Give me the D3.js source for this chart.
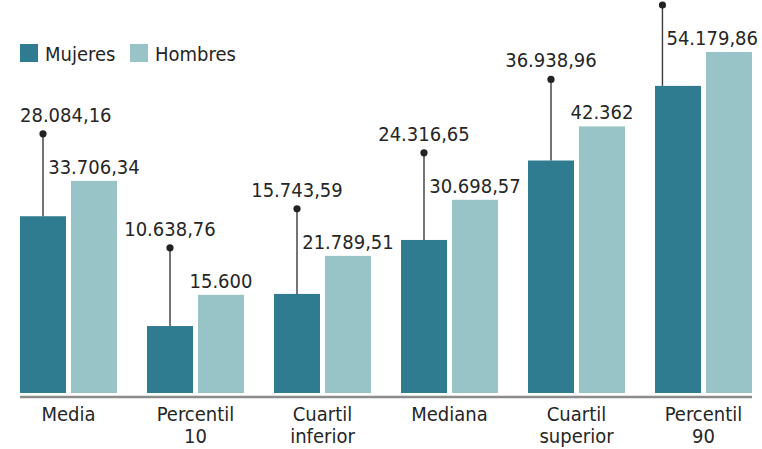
<!DOCTYPE html>
<html>
<head>
<meta charset="utf-8">
<script src="https://cdn.jsdelivr.net/npm/d3@7"></script>
<style>
  body { margin: 0; background: #fff; }
  svg text { font-family: "DejaVu Sans Condensed", "DejaVu Sans", sans-serif; fill: #262626; }
</style>
</head>
<body>
<div id="chart"></div>
<script>
// data
var categories = [["Media"], ["Percentil", "10"], ["Cuartil", "inferior"], ["Mediana"], ["Cuartil", "superior"], ["Percentil", "90"]];
var mujeres = [28084.16, 10638.76, 15743.59, 24316.65, 36938.96, 48796];
var hombres = [33706.34, 15600, 21789.51, 30698.57, 42362, 54179.86];
var seriesNames = ["Mujeres", "Hombres"];

var colorMuj = "#2f7b8f";
var colorHom = "#98c4c7";

var W = 762, H = 449;
var fs = "20px";

var locale = d3.formatLocale({ decimal: ",", thousands: ".", grouping: [3], currency: ["", "€"] });
var fmtInt = locale.format(",.0f");
var fmtDec = locale.format(",.2f");
function fmt(v) { return Number.isInteger(v) ? fmtInt(v) : fmtDec(v); }

var svg = d3.select("#chart").append("svg")
  .attr("width", W)
  .attr("height", H);

var x = d3.scaleBand()
  .domain(d3.range(categories.length))
  .range([20, 752])
  .paddingInner(30 / 127)
  .paddingOuter(0);

var gap = 5;
var barW = (x.bandwidth() - gap) / 2;

var y = d3.scaleLinear()
  .domain([0, d3.max(hombres)])
  .range([393, 52]);

// legend
var legend = svg.append("g").attr("class", "legend");
var legX = [20, 130];
seriesNames.forEach(function(name, i) {
  legend.append("rect")
    .attr("x", legX[i]).attr("y", 44)
    .attr("width", 18).attr("height", 18)
    .attr("fill", i == 0 ? colorMuj : colorHom);
  legend.append("text")
    .attr("x", legX[i] + 25).attr("y", 61)
    .style("font-size", fs)
    .text(name);
});

var groups = svg.selectAll(".grp")
  .data(categories)
  .enter()
  .append("g")
  .attr("class", "grp");

// bars
groups.append("rect")
  .attr("x", function(d, i) { return x(i); })
  .attr("y", function(d, i) { return y(mujeres[i]); })
  .attr("width", barW)
  .attr("height", function(d, i) { return y(0) - y(mujeres[i]); })
  .attr("fill", colorMuj);

groups.append("rect")
  .attr("x", function(d, i) { return x(i) + barW + gap; })
  .attr("y", function(d, i) { return y(hombres[i]); })
  .attr("width", barW)
  .attr("height", function(d, i) { return y(0) - y(hombres[i]); })
  .attr("fill", colorHom);

// hombres labels, centred on bar but kept inside the picture
var homLabelLeft = [];
groups.append("text")
  .attr("class", "homLabel")
  .attr("y", function(d, i) { return y(hombres[i]) - 7; })
  .style("font-size", fs)
  .text(function(d, i) { return fmt(hombres[i]); })
  .each(function(d, i) {
    var w = this.getComputedTextLength();
    var cx = x(i) + barW * 1.5 + gap;
    var left = Math.min(Math.max(cx - w / 2, 20), W - 4 - w);
    homLabelLeft[i] = left;
    d3.select(this).attr("x", left);
  });

// mujeres labels with leader line and dot
groups.each(function(d, i) {
  var g = d3.select(this);
  var base = y(hombres[i]) - 7 - 52;
  var lx = Math.min(x(i) + barW / 2, homLabelLeft[i] - 4);
  g.append("line")
    .attr("x1", lx).attr("x2", lx)
    .attr("y1", base + 12)
    .attr("y2", y(mujeres[i]))
    .attr("stroke", "#3a3a3a")
    .attr("stroke-width", 1.4);
  g.append("circle")
    .attr("cx", lx).attr("cy", base + 12)
    .attr("r", 3.6)
    .attr("fill", "#222");
  var t = g.append("text")
    .attr("y", base)
    .style("font-size", fs)
    .text(fmt(mujeres[i]));
  var w = t.node().getComputedTextLength();
  t.attr("x", Math.max(lx - w / 2, 20));
});

// axis line
svg.append("line")
  .attr("x1", 20).attr("x2", 752)
  .attr("y1", 397).attr("y2", 397)
  .attr("stroke", "#8c8c8c")
  .attr("stroke-width", 2.5);

// category labels
groups.append("text")
  .attr("text-anchor", "middle")
  .style("font-size", fs)
  .selectAll("tspan")
  .data(function(d, i) { return d.map(function(s) { return { s: s, i: i }; }); })
  .enter()
  .append("tspan")
  .attr("x", function(d) { return x(d.i) + x.bandwidth() / 2; })
  .attr("y", function(d, j) { return 421 + j * 22; })
  .text(function(d) { return d.s; });
</script>
</body>
</html>
